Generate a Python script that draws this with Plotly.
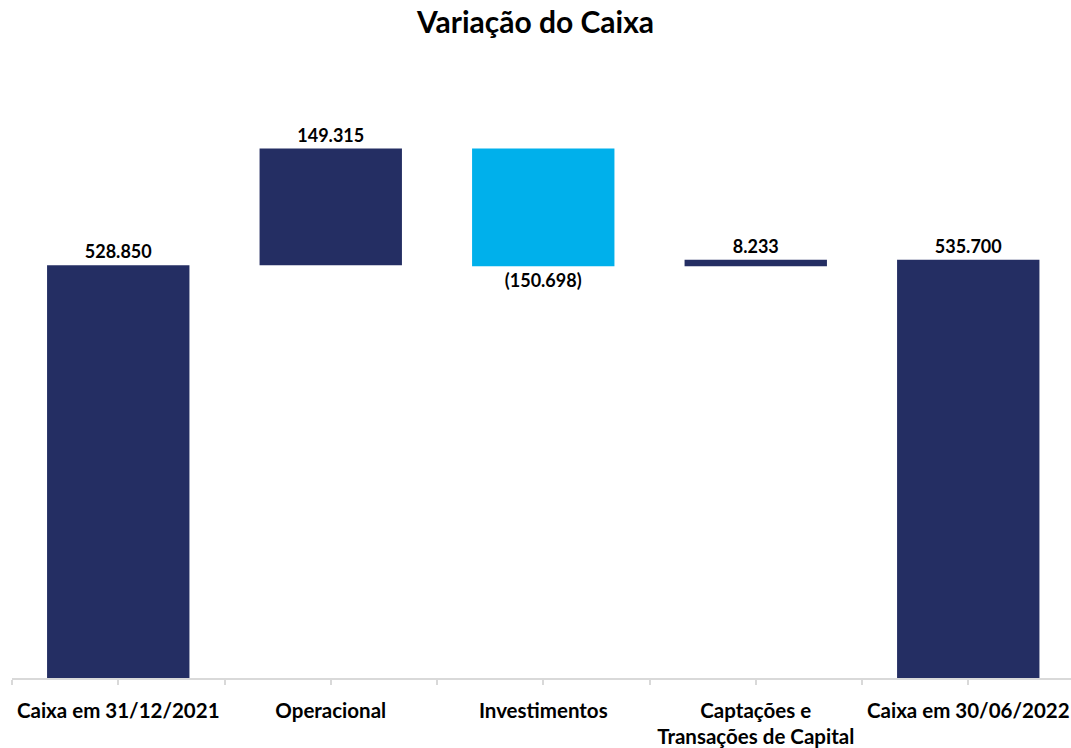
import plotly.graph_objects as go

categories = ["Caixa em 31/12/2021", "Operacional", "Investimentos",
              "Captações e<br>Transações de Capital", "Caixa em 30/06/2022"]
values = [528850, 149315, -150698, 8233, 535700]
measures = ["absolute", "relative", "relative", "relative", "total"]

NAVY = "#242E63"
CYAN = "#00B0EB"
FONT = "Lato"


def fmt(v):
    s = f"{abs(v):,}".replace(",", ".")
    return f"({s})" if v < 0 else s


labels = [fmt(v) for v in values]
xpos = list(range(len(categories)))

fig = go.Figure(go.Waterfall(
    x=xpos,
    y=values,
    measure=measures,
    text=labels,
    textposition="outside",
    textfont=dict(family=FONT, size=18, color="#000000", weight="bold"),
    increasing=dict(marker=dict(color=NAVY, line=dict(color=NAVY, width=0))),
    decreasing=dict(marker=dict(color=CYAN, line=dict(color=CYAN, width=0))),
    totals=dict(marker=dict(color=NAVY, line=dict(color=NAVY, width=0))),
    connector=dict(visible=False),
    width=0.67,
    cliponaxis=False,
))

fig.update_layout(
    width=1071, height=748,
    margin=dict(l=12, r=0, t=80, b=67),
    paper_bgcolor="white",
    plot_bgcolor="white",
    showlegend=False,
    title=dict(text="<b>Variação do Caixa</b>", x=0.5, xanchor="center",
               y=0.97, yanchor="middle",
               font=dict(family=FONT, size=30, color="#000000")),
    font=dict(family=FONT),
)
fig.update_xaxes(
    range=[-0.5, 4.4835],
    tickvals=xpos,
    ticktext=[f"<b>{c}</b>" for c in categories],
    tickfont=dict(family=FONT, size=20.5, color="#000000"),
    ticklabelstandoff=8,
    showline=True, linecolor="#D9D9D9", linewidth=2,
    ticks="outside", ticklen=5, tickcolor="#D9D9D9", tickwidth=1.5,
    minor=dict(tick0=-0.5, dtick=1, ticks="outside", ticklen=5,
               tickcolor="#D9D9D9", tickwidth=1.5),
    showgrid=False, zeroline=False,
)
fig.update_yaxes(range=[0, 766000], visible=False, showgrid=False)

fig.write_html("out.html")
